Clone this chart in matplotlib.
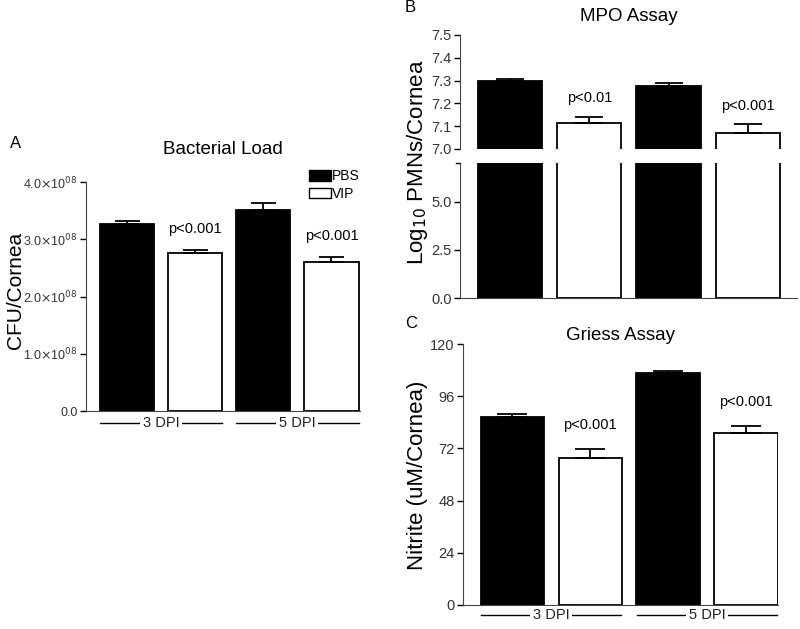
import numpy as np
import matplotlib.pyplot as plt
import matplotlib.transforms as mtransforms

plt.rcParams['font.family'] = ['Liberation Sans', 'DejaVu Sans']

# data
groups = ["3 DPI", "5 DPI"]
treat = ["PBS", "VIP"]

# A: bacterial load (CFU/cornea, x1e8)
load_mean = [3.27, 2.76, 3.51, 2.60]
load_err = [0.05, 0.05, 0.12, 0.09]
load_p = ["p<0.001", "p<0.001"]

# B: MPO assay (log10 PMNs/cornea)
mpo_mean = [7.30, 7.114, 7.276, 7.07]
mpo_err = [0.008, 0.027, 0.012, 0.04]
mpo_p = ["p<0.01", "p<0.001"]

# C: Griess assay (nitrite uM/cornea)
no_mean = [86.4, 67.6, 106.7, 79.1]
no_err = [1.4, 4.1, 1.0, 3.2]
no_p = ["p<0.001", "p<0.001"]

colors = ["black", "white", "black", "white"]
x = np.arange(4)
W = 800
H = 629
tickc = "#333333"


def fa(l, t, r, b):
    return [l / W, 1 - b / H, (r - l) / W, (b - t) / H]


def draw_bars(ax, mean, err, cap, width=0.8):
    ax.bar(x, mean, width=width, color=colors, edgecolor="black", linewidth=1.3, zorder=2)
    ax.errorbar(x, mean, yerr=[np.zeros(4), err], fmt="none", ecolor="black",
                elinewidth=1.3, capsize=cap, capthick=1.3, zorder=3)


def style(ax):
    ax.spines["top"].set_visible(False)
    ax.spines["right"].set_visible(False)
    ax.set_xticks([])
    ax.tick_params(axis="y", direction="out", length=4, width=1, colors="black",
                   labelcolor=tickc, labelsize=10.5, pad=2)
    ax.spines["left"].set_color("#444444")
    ax.spines["bottom"].set_color("#444444")


def group_labels(ax, dy, half=0.4):
    trans = mtransforms.blended_transform_factory(ax.transData, ax.transAxes)
    for i, g in enumerate(groups):
        x0 = 2 * i - half
        x1 = 2 * i + 1 + half
        ax.plot([x0, x1], [dy, dy], color="black", lw=1, transform=trans, clip_on=False)
        ax.text((x0 + x1) / 2, dy, g, transform=trans, ha="center", va="center",
                fontsize=10.5, color="#222222",
                bbox=dict(facecolor="white", edgecolor="none", pad=2))


fig = plt.figure(figsize=(8, 6.29), dpi=100)

# ---------- A ----------
axA = fig.add_axes(fa(86, 182, 360, 411))
draw_bars(axA, load_mean, load_err, 9)
axA.set_xlim(-0.6, 3.42)
axA.set_ylim(0, 4.0)
axA.set_yticks([0, 1, 2, 3, 4])
axA.set_yticklabels(["0.0"] + [r"%.1f$\times$10$^{08}$" % v for v in [1, 2, 3, 4]])
style(axA)
axA.tick_params(axis="y", labelsize=9, pad=2)
fig.text(16 / W, 1 - 290 / H, "CFU/Cornea", rotation=90, fontsize=15,
         ha="center", va="center")
axA.set_title("Bacterial Load", fontsize=13.5, pad=20)
for i, p in enumerate(load_p):
    xi = 2 * i + 1
    axA.text(xi, load_mean[xi] + load_err[xi] + 0.25, p, ha="center", va="bottom", fontsize=10.5)
axA.bar([0], [0], color="black", edgecolor="black", label="PBS")
axA.bar([0], [0], color="white", edgecolor="black", label="VIP")
axA.legend(loc="upper right", bbox_to_anchor=(1.02, 1.08), frameon=False, fontsize=10,
           handlelength=1.6, handleheight=0.8, handletextpad=0.1, labelspacing=0.25,
           borderaxespad=0)
group_labels(axA, -0.052)
fig.text(10 / W, 1 - 143 / H, "A", fontsize=12, va="center")

# ---------- B ----------
axB1 = fig.add_axes(fa(460, 35, 797, 149))
axB2 = fig.add_axes(fa(460, 163, 797, 298))
for ax in (axB1, axB2):
    draw_bars(ax, mpo_mean, mpo_err, 10, width=0.81)
    ax.set_xlim(-0.63, 3.62)
    style(ax)
axB1.set_ylim(7.0, 7.5)
axB1.set_yticks([7.0, 7.1, 7.2, 7.3, 7.4, 7.5])
axB1.spines["bottom"].set_visible(False)
axB2.set_ylim(0, 7.0)
axB2.set_yticks([0, 2.5, 5.0])
axB2.set_yticklabels(["0.0", "2.5", "5.0"])
axB2.plot([0, -0.012], [1, 1], color="black", lw=1, transform=axB2.transAxes, clip_on=False)
for i, p in enumerate(mpo_p):
    xi = 2 * i + 1
    axB1.text(xi, mpo_mean[xi] + mpo_err[xi] + 0.05, p, ha="center", va="bottom", fontsize=10.5)
axB1.set_title("MPO Assay", fontsize=13.5, pad=10)
fig.text(417 / W, 1 - 162 / H, r"Log$_{10}$ PMNs/Cornea", rotation=90, fontsize=16,
         ha="center", va="center")
fig.text(405 / W, 1 - 8 / H, "B", fontsize=12, va="center")

# ---------- C ----------
axC = fig.add_axes(fa(463, 344, 778, 605))
draw_bars(axC, no_mean, no_err, 11, width=0.81)
axC.set_xlim(-0.63, 3.41)
axC.set_ylim(0, 120)
axC.set_yticks([0, 24, 48, 72, 96, 120])
style(axC)
fig.text(417 / W, 1 - 475 / H, "Nitrite (uM/Cornea)", rotation=90, fontsize=16,
         ha="center", va="center")
axC.set_title("Griess Assay", fontsize=13.5, pad=3)
for i, p in enumerate(no_p):
    xi = 2 * i + 1
    axC.text(xi, no_mean[xi] + no_err[xi] + 8, p, ha="center", va="bottom", fontsize=10.5)
group_labels(axC, -0.04)
fig.text(405 / W, 1 - 323 / H, "C", fontsize=12, va="center")

fig.savefig("out.png", dpi=100)
